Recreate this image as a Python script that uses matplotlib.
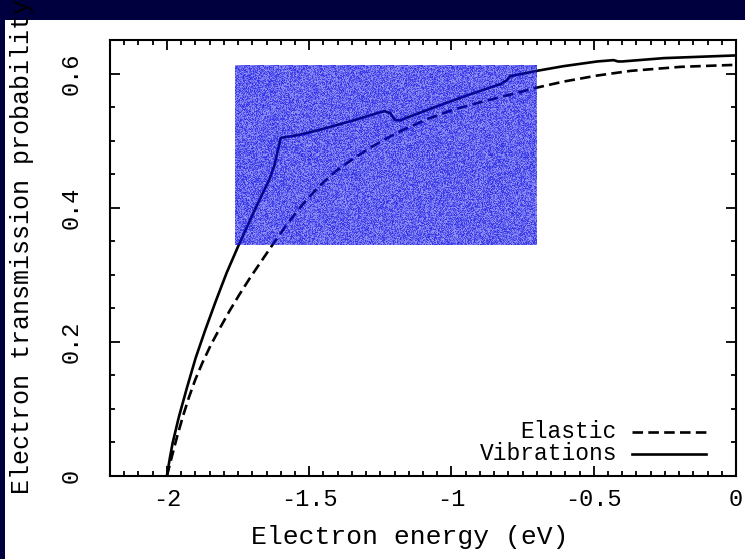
import numpy as np
import matplotlib
matplotlib.use("Agg")
import matplotlib.pyplot as plt
from matplotlib.patches import Rectangle
from matplotlib.lines import Line2D
from matplotlib.ticker import MultipleLocator, FixedLocator, FixedFormatter

# Transmission with vibrational coupling
vib_energy = [-2.0, -1.99, -1.98, -1.958, -1.93, -1.899, -1.865, -1.828, -1.79,
              -1.746, -1.69, -1.64, -1.623, -1.600, -1.53, -1.464, -1.346, -1.26,
              -1.235, -1.215, -1.199, -1.182, -1.158, -1.052, -0.935, -0.829,
              -0.805, -0.794, -0.70, -0.606, -0.488, -0.43, -0.415, -0.40,
              -0.253, 0.0]
vib_trans = [0.0, 0.026, 0.049, 0.088, 0.131, 0.176, 0.218, 0.261, 0.303,
             0.346, 0.398, 0.442, 0.462, 0.504, 0.509, 0.516, 0.530, 0.541,
             0.544, 0.541, 0.531, 0.530, 0.534, 0.551, 0.569, 0.584,
             0.590, 0.596, 0.604, 0.611, 0.618, 0.620, 0.618, 0.618,
             0.623, 0.627]

# Purely elastic transmission
el_energy = [-2.0, -1.982, -1.964, -1.943, -1.922, -1.9, -1.875, -1.846, -1.817,
             -1.78, -1.746, -1.71, -1.675, -1.63, -1.58, -1.523, -1.465, -1.405,
             -1.345, -1.287, -1.23, -1.17, -1.08, -0.994, -0.9, -0.817, -0.70,
             -0.606, -0.488, -0.37, -0.194, 0.0]
el_trans = [0.0, 0.030, 0.059, 0.090, 0.118, 0.144, 0.169, 0.195, 0.218,
            0.246, 0.270, 0.294, 0.316, 0.344, 0.374, 0.405, 0.432, 0.455,
            0.473, 0.489, 0.503, 0.516, 0.533, 0.546, 0.557, 0.566, 0.579,
            0.588, 0.597, 0.604, 0.610, 0.613]

x_ticks = [-2.0, -1.5, -1.0, -0.5, 0.0]
x_labels = ["-2", "-1.5", "-1", "-0.5", "0"]
y_ticks = [0.0, 0.2, 0.4, 0.6]
y_labels = ["0", "0.2", "0.4", "0.6"]

# highlighted window (energy range, transmission range)
box_energy = [-1.76, -0.70]
box_trans = [0.345, 0.612]

FONT = "Liberation Mono"
W, H = 745, 559
fig = plt.figure(figsize=(W / 100, H / 100), dpi=100, facecolor="#00003f")
fig.patches.append(Rectangle((5 / W, 0), 1, (H - 20) / H, transform=fig.transFigure,
                             facecolor="white", edgecolor="none", zorder=-10))

ax_l, ax_r, ax_t, ax_b = 110, 736, 40, 476
ax = fig.add_axes([ax_l / W, (H - ax_b) / H, (ax_r - ax_l) / W, (ax_b - ax_t) / H])
ax.set_zorder(1)
ax.set_facecolor("white")

lw = 1.9
ax.plot(vib_energy, vib_trans, color="black", lw=lw, solid_joinstyle="round", zorder=2)
ax.plot(el_energy, el_trans, color="black", lw=lw, dashes=(4, 2), zorder=2)

# speckled translucent blue window (integer hash texture)
ny, nx = 179, 302
jj, ii = np.meshgrid(np.arange(nx, dtype=np.int64), np.arange(ny, dtype=np.int64))
h = (ii * 73856093) ^ (jj * 19349663) ^ ((ii * jj) * 83492791)
pat = (h % 1009) / 1008.0
rgba = np.zeros((ny, nx, 4))
rgba[..., 0] = 0.05
rgba[..., 1] = 0.05
rgba[..., 2] = 0.9
rgba[..., 3] = 0.42 + 0.45 * pat
ax.imshow(rgba, extent=[box_energy[0], box_energy[1], box_trans[0], box_trans[1]],
          aspect="auto", interpolation="nearest", zorder=3)

ax.set_xlim(-2.2, 0.0)
ax.set_ylim(0.0, 0.65)

ax.xaxis.set_major_locator(FixedLocator(x_ticks))
ax.xaxis.set_major_formatter(FixedFormatter(x_labels))
ax.yaxis.set_major_locator(FixedLocator(y_ticks))
ax.yaxis.set_major_formatter(FixedFormatter(y_labels))
ax.xaxis.set_minor_locator(MultipleLocator(0.05))
ax.yaxis.set_minor_locator(MultipleLocator(0.05))
ax.tick_params(which="both", direction="in", top=True, right=True, width=1.3, color="black")
ax.tick_params(which="major", length=7)
ax.tick_params(which="minor", length=3.6)
ax.tick_params(axis="x", which="major", pad=9, labelsize=17)
ax.tick_params(axis="y", which="major", pad=20, labelsize=17, labelrotation=90)
for lab in ax.get_xticklabels() + ax.get_yticklabels():
    lab.set_fontfamily(FONT)
for lab in ax.get_yticklabels():
    lab.set_verticalalignment("center")
for s in ax.spines.values():
    s.set_linewidth(1.5)

fig.text(410 / W, (H - 537) / H, "Electron energy (eV)", family=FONT, fontsize=19,
         ha="center", va="center", zorder=5)
fig.text(22 / W, (H - 247) / H, "Electron transmission probability", family=FONT,
         fontsize=18, rotation=90, ha="center", va="center", zorder=5)

# key
def ax_frac(px, py):
    return (px - ax_l) / (ax_r - ax_l), (ax_b - py) / (ax_b - ax_t)

for label, py, style in [("Elastic", 432, "dash"), ("Vibrations", 454, "solid")]:
    tx, ty = ax_frac(617, py)
    ax.text(tx, ty, label, transform=ax.transAxes, family=FONT, fontsize=16.5,
            ha="right", va="center")
    x0, y0 = ax_frac(632, py)
    x1, _ = ax_frac(706, py)
    kw = dict(dashes=(4, 2)) if style == "dash" else {}
    ax.add_line(Line2D([x0, x1], [y0, y0], transform=ax.transAxes, color="black", lw=lw, **kw))

fig.savefig("out.png", dpi=100, facecolor=fig.get_facecolor())
